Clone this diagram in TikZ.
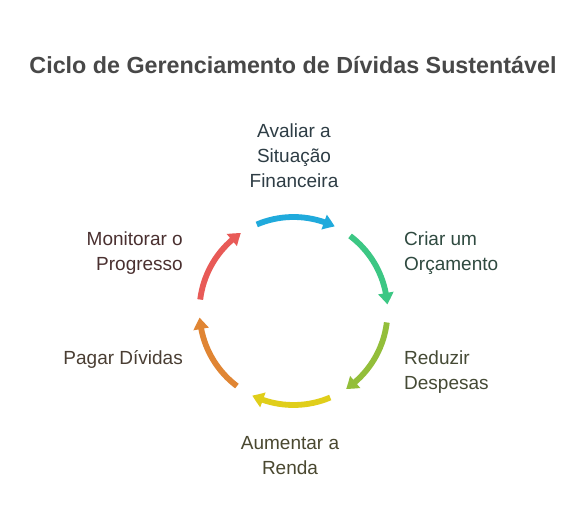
\documentclass[tikz,border=0pt]{standalone}
\usepackage{fontspec}
\setmainfont{Liberation Sans}
\usetikzlibrary{arrows.meta,bending}
\definecolor{cblue}{HTML}{20AADC}
\definecolor{cgreen}{HTML}{3CC784}
\definecolor{colive}{HTML}{93BE3A}
\definecolor{cyellow}{HTML}{E0CE1A}
\definecolor{corange}{HTML}{E08533}
\definecolor{cred}{HTML}{E85A57}
\definecolor{tblue}{HTML}{2E3D45}
\definecolor{tgreen}{HTML}{2F4A40}
\definecolor{tolive}{HTML}{454A35}
\definecolor{tyellow}{HTML}{4A4830}
\definecolor{torange}{HTML}{4A3E33}
\definecolor{tred}{HTML}{4A3030}
\definecolor{ttitle}{HTML}{484848}
\tikzset{
  x=1pt,y=1pt,
  cyc/.style={line width=5.8pt,-{Triangle[width=15pt,length=11.5pt,bend]}},
  lab/.style={font=\fontsize{19}{25}\selectfont,inner sep=0pt},
}
\begin{document}
\begin{tikzpicture}
\useasboundingbox[fill=white] (0,0) rectangle (588,528);
\coordinate (c) at (293.5,217);
\def\R{94}
\node[font=\fontsize{23.3}{27}\selectfont\bfseries,text=ttitle] (title) at (293,463) {Ciclo de Gerenciamento de Dívidas Sustentável};
\foreach \m/\col in {90/cblue,30/cgreen,-30/colive,-90/cyellow,-150/corange,150/cred}{
  \draw[cyc,draw=\col] ([shift={(\m+23:\R)}]c) arc[start angle=\m+23,end angle=\m-26,radius=\R];
}
\node[lab,align=center,text=tblue] (l1) at (294,372) {Avaliar a\\Situação\\Financeira};
\node[lab,align=left,text=tgreen,anchor=west] (l2) at (404,275) {Criar um\\Orçamento};
\node[lab,align=left,text=tolive,anchor=west] (l3) at (404,156) {Reduzir\\Despesas};
\node[lab,align=center,text=tyellow] (l4) at (290,72.5) {Aumentar a\\Renda};
\node[lab,align=right,text=torange,anchor=east] (l5) at (183,169) {Pagar Dívidas};
\node[lab,align=right,text=tred,anchor=east] (l6) at (183,275) {Monitorar o\\Progresso};
\end{tikzpicture}
\end{document}
